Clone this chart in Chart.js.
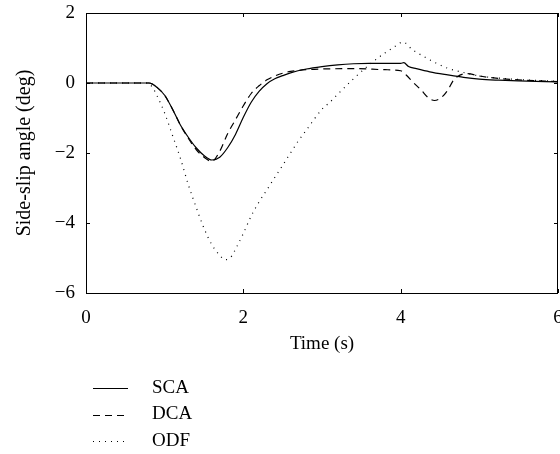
<!DOCTYPE html>
<html>
<head>
<meta charset="utf-8">
<script src="https://cdn.jsdelivr.net/npm/chart.js@4/dist/chart.umd.min.js"></script>
<style>
html,body{margin:0;padding:0;background:#fff;}
#wrap{width:560px;height:454px;}
</style>
</head>
<body>
<div id="wrap"><canvas id="c" width="560" height="454"></canvas></div>
<script>
// ---- data ----
const seriesNames = ['SCA', 'DCA', 'ODF'];

const scaTime  = [0, 0.8, 0.85, 0.9, 1.0, 1.1, 1.2, 1.3, 1.4, 1.5, 1.6, 1.7, 1.8, 1.9, 2.0, 2.1, 2.2, 2.3, 2.4, 2.5, 2.6, 2.8, 3.0, 3.2, 3.4, 3.6, 3.8, 4.0, 4.04, 4.1, 4.2, 4.37, 4.6, 4.8, 5.0, 5.25, 5.5, 6.0];
const scaAngle = [0, 0, -0.04, -0.12, -0.35, -0.75, -1.2, -1.55, -1.85, -2.07, -2.2, -2.12, -1.85, -1.47, -0.98, -0.55, -0.24, -0.02, 0.12, 0.21, 0.29, 0.4, 0.47, 0.52, 0.55, 0.56, 0.56, 0.56, 0.58, 0.47, 0.41, 0.32, 0.23, 0.16, 0.11, 0.08, 0.06, 0.03];

const dcaTime  = [0, 0.8, 0.85, 0.9, 1.0, 1.1, 1.2, 1.3, 1.4, 1.5, 1.6, 1.7, 1.8, 1.9, 2.0, 2.1, 2.2, 2.3, 2.4, 2.5, 2.6, 2.8, 3.0, 3.4, 3.8, 4.0, 4.07, 4.15, 4.26, 4.35, 4.43, 4.53, 4.6, 4.66, 4.72, 4.85, 5.0, 5.25, 5.5, 6.0];
const dcaAngle = [0, 0, -0.04, -0.12, -0.35, -0.75, -1.2, -1.58, -1.9, -2.12, -2.24, -1.95, -1.45, -1.05, -0.65, -0.3, -0.08, 0.09, 0.2, 0.28, 0.33, 0.38, 0.4, 0.41, 0.38, 0.35, 0.23, 0.04, -0.2, -0.42, -0.5, -0.39, -0.2, 0.04, 0.18, 0.27, 0.2, 0.13, 0.09, 0.04];

const odfTime  = [0, 0.78, 0.85, 0.9, 1.0, 1.1, 1.2, 1.3, 1.4, 1.5, 1.6, 1.7, 1.77, 1.85, 1.9, 2.0, 2.1, 2.2, 2.3, 2.4, 2.5, 2.6, 2.7, 2.8, 3.0, 3.1, 3.2, 3.4, 3.6, 3.8, 3.9, 4.03, 4.15, 4.3, 4.45, 4.6, 4.8, 5.0, 5.25, 5.5, 6.0];
const odfAngle = [0, 0, -0.14, -0.35, -0.86, -1.5, -2.15, -2.9, -3.55, -4.15, -4.62, -4.92, -5.05, -4.95, -4.75, -4.3, -3.8, -3.4, -3.05, -2.7, -2.35, -2.0, -1.65, -1.35, -0.75, -0.55, -0.32, 0.12, 0.52, 0.86, 1.0, 1.17, 0.95, 0.75, 0.57, 0.42, 0.3, 0.2, 0.14, 0.1, 0.05];

const xTicks = [0, 2, 4, 6];
const yTicks = [-6, -4, -2, 0, 2];

const xTitle = 'Time (s)';
const yTitle = 'Side-slip angle (deg)';

// ---- chart ----
const FONT = '"Liberation Serif", "DejaVu Serif", serif';
const FS = 19;
const toXY = (ts, vs) => ts.map((t, i) => ({x: t, y: vs[i]}));

const styles = [
  {borderDash: []},
  {borderDash: [7, 5]},
  {borderDash: [1, 5]}
];
const seriesData = [toXY(scaTime, scaAngle), toXY(dcaTime, dcaAngle), toXY(odfTime, odfAngle)];

const datasets = seriesNames.map((name, i) => ({
  label: name,
  data: seriesData[i],
  borderColor: '#000',
  backgroundColor: '#000',
  borderWidth: 1.2,
  borderDash: styles[i].borderDash,
  pointRadius: 0,
  fill: false,
  cubicInterpolationMode: 'monotone'
}));

const minus = v => String(v).replace('-', '\u2212');

const frame = {
  id: 'frame',
  afterDatasetsDraw(chart) {
    const {ctx, chartArea: a, scales: {x, y}} = chart;
    ctx.save();
    ctx.strokeStyle = '#000';
    ctx.lineWidth = 1;
    ctx.setLineDash([]);
    ctx.strokeRect(Math.round(a.left) + 0.5, Math.round(a.top) + 0.5, Math.round(a.right - a.left) - 1, Math.round(a.bottom - a.top));
    const tl = 4;
    ctx.beginPath();
    xTicks.forEach(v => {
      const px = Math.round(x.getPixelForValue(v)) + 0.5;
      ctx.moveTo(px, a.bottom); ctx.lineTo(px, a.bottom - tl);
      ctx.moveTo(px, a.top); ctx.lineTo(px, a.top + tl);
    });
    yTicks.forEach(v => {
      const py = Math.round(y.getPixelForValue(v)) + 0.5;
      ctx.moveTo(a.left, py); ctx.lineTo(a.left + tl, py);
      ctx.moveTo(a.right, py); ctx.lineTo(a.right - tl, py);
    });
    ctx.stroke();
    ctx.restore();
  },
  afterDraw(chart) {
    const ctx = chart.ctx;
    ctx.save();
    ctx.font = FS + 'px ' + FONT;
    ctx.fillStyle = '#000';
    ctx.textBaseline = 'middle';
    ctx.textAlign = 'left';
    chart.data.datasets.forEach((ds, i) => {
      const yy = 388 + i * 26.5;
      ctx.strokeStyle = ds.borderColor;
      ctx.lineWidth = ds.borderWidth;
      ctx.setLineDash(ds.borderDash);
      ctx.beginPath();
      ctx.moveTo(93, Math.round(yy) + 0.5);
      ctx.lineTo(128, Math.round(yy) + 0.5);
      ctx.stroke();
      ctx.setLineDash([]);
      ctx.fillText(ds.label, 152, yy);
    });
    ctx.restore();
  }
};

new Chart(document.getElementById('c'), {
  type: 'line',
  data: {datasets},
  options: {
    responsive: false,
    animation: false,
    devicePixelRatio: 1,
    layout: {padding: {top: 13, right: 2, bottom: 91, left: 0}},
    plugins: {legend: {display: false}, tooltip: {enabled: false}},
    scales: {
      x: {
        type: 'linear',
        min: 0, max: 6,
        afterBuildTicks: s => { s.ticks = xTicks.map(v => ({value: v})); },
        afterFit: s => { s.height = 70; s.paddingLeft = 0; s.paddingRight = 0; },
        grid: {display: false, drawTicks: false},
        border: {display: false},
        ticks: {padding: 14, color: '#000', font: {family: FONT, size: FS}, maxRotation: 0, callback: v => minus(v)},
        title: {display: true, text: xTitle, color: '#000', font: {family: FONT, size: FS}, padding: {top: 0, bottom: 8}}
      },
      y: {
        type: 'linear',
        min: -6, max: 2,
        afterBuildTicks: s => { s.ticks = yTicks.map(v => ({value: v})); },
        afterFit: s => { s.width = 86; s.paddingTop = 0; s.paddingBottom = 0; },
        grid: {display: false, drawTicks: false},
        border: {display: false},
        ticks: {padding: 11, color: '#000', font: {family: FONT, size: FS}, callback: v => minus(v)},
        title: {display: true, text: yTitle, color: '#000', font: {family: FONT, size: 20}, padding: {top: 13, bottom: 0}}
      }
    }
  },
  plugins: [frame]
});
</script>
</body>
</html>
